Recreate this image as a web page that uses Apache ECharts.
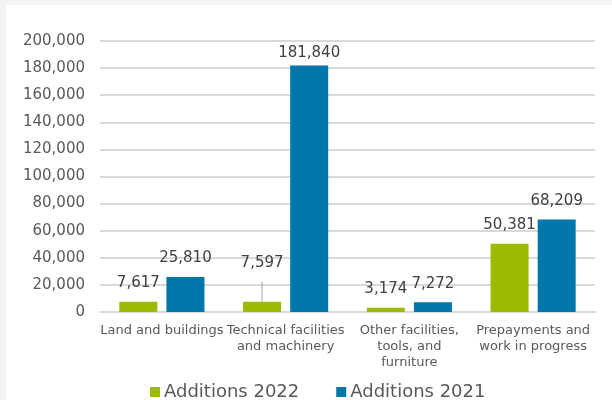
<!DOCTYPE html>
<html>
<head>
<meta charset="utf-8">
<script src="https://cdn.jsdelivr.net/npm/echarts@6/dist/echarts.min.js"></script>
<style>
  html, body { margin: 0; padding: 0; background: #ffffff; overflow: hidden; }
  .edge { position: absolute; background: #f3f3f3; }
  #edgeTop { left: 0; top: 0; right: 0; height: 5px; }
  #edgeLeft { left: 0; top: 0; bottom: 0; width: 6px; }
  #chart {
    position: absolute;
    left: 6px;
    top: 5px;
    width: 606px;
    height: 395px;
    background: #ffffff;
  }
</style>
</head>
<body>
<div class="edge" id="edgeTop"></div>
<div class="edge" id="edgeLeft"></div>
<div id="chart"></div>
<script>
var categories = [
  "Land and buildings",
  "Technical facilities\nand machinery",
  "Other facilities,\ntools, and\nfurniture",
  "Prepayments and\nwork in progress"
];
var seriesNames = ["Additions 2022", "Additions 2021"];
var additions2022 = [7617, 7597, 3174, 50381];
var additions2021 = [25810, 181840, 7272, 68209];

var font = "Verdana, 'DejaVu Sans', sans-serif";
var green = "#9bba00";
var blue = "#0077ab";

function fmt(v) {
  return v.toLocaleString("en-US");
}

var chartDom = document.getElementById("chart");
var myChart = echarts.init(chartDom);
var option;

// 7,597 sits higher with a leader line, 181,840 sits closer to its bar
var data2022 = additions2022.map(function (v, i) {
  if (i === 1) {
    return {
      value: v,
      label: { lineHeight: 38, distance: 0 },
      labelLine: { show: true, lineStyle: { color: "#a6a6a6", width: 1 } }
    };
  }
  return v;
});
var data2021 = additions2021.map(function (v, i) {
  if (i === 1) {
    return { value: v, label: { distance: 5 } };
  }
  return v;
});

var labelStyle = {
  show: true,
  position: "top",
  distance: 11,
  color: "#404040",
  fontFamily: font,
  fontSize: 15,
  formatter: function (p) { return fmt(p.value); }
};

option = {
  animation: false,
  textStyle: { fontFamily: font },
  grid: {
    left: 94,
    right: 17,
    top: 36,
    bottom: 88
  },
  legend: {
    left: 139,
    top: 373,
    itemWidth: 10,
    itemHeight: 10,
    itemGap: 37,
    icon: "rect",
    textStyle: {
      color: "#595959",
      fontFamily: font,
      fontSize: 18,
      padding: [0, 0, 0, -1]
    },
    data: seriesNames
  },
  xAxis: {
    type: "category",
    data: categories,
    axisTick: { show: false },
    axisLine: { lineStyle: { color: "#d9d9d9", width: 2 } },
    axisLabel: {
      interval: 0,
      margin: 11,
      color: "#595959",
      fontFamily: font,
      fontSize: 13,
      lineHeight: 16
    }
  },
  yAxis: {
    type: "value",
    min: 0,
    max: 200000,
    interval: 20000,
    axisLine: { show: false },
    axisTick: { show: false },
    splitLine: { lineStyle: { color: "#d9d9d9", width: 2 } },
    axisLabel: {
      margin: 15,
      color: "#595959",
      fontFamily: font,
      fontSize: 15,
      formatter: function (v) { return fmt(v); }
    }
  },
  series: [
    {
      name: seriesNames[0],
      type: "bar",
      barWidth: 38,
      barGap: "24%",
      itemStyle: { color: green },
      label: labelStyle,
      labelLayout: function (p) {
        if (p.dataIndex === 1) {
          return { dy: -20 };
        }
      },
      data: data2022
    },
    {
      name: seriesNames[1],
      type: "bar",
      barWidth: 38,
      barGap: "24%",
      itemStyle: { color: blue },
      label: labelStyle,
      data: data2021
    }
  ]
};

option && myChart.setOption(option);
</script>
</body>
</html>
